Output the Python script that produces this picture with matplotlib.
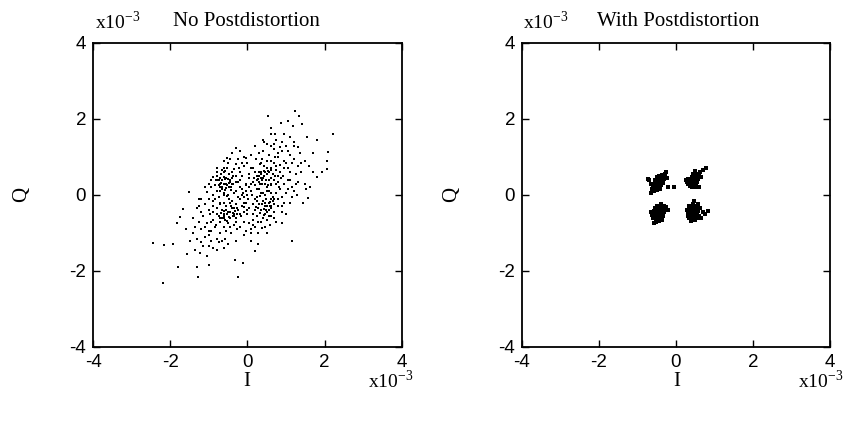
import matplotlib
matplotlib.use("Agg")
import matplotlib.pyplot as plt

plt.rcParams['font.family'] = ['Liberation Serif', 'DejaVu Serif']
plt.rcParams['mathtext.fontset'] = 'stix'
plt.rcParams['axes.unicode_minus'] = False

# values in units of 1e-3
# left panel: received constellation without postdistortion
cluster_a = [(-0.6,0.3),(-0.5,0.42),(-0.72,0.2),(-0.45,0.35),(-0.8,0.1),(-0.3,0.5),(-0.65,0.38),(-0.55,0.18),(-0.9,0.0),(-0.2,0.6),
             (-0.38,0.28),(-0.7,0.45),(-0.85,0.25),(-0.48,0.55),(-0.62,0.05),(-1.0,-0.12),(-0.1,0.75),(-0.35,0.68),(-0.75,-0.05),(-0.58,0.62),
             (-0.95,0.2),(-0.25,0.35),(-0.42,0.12),(-0.68,0.55),(-1.1,-0.25),(0.0,0.85),(-0.15,0.5),(-0.82,0.4),(-0.52,-0.02),(-0.3,0.82),
             (-1.2,-0.1),(-0.05,0.98),(-0.6,0.72),(-0.88,-0.15),(-0.4,0.45),(-0.72,0.3),(-0.55,0.3),(-0.65,0.15),(-0.47,0.22),(-0.78,0.5),
             (-1.05,0.08),(-0.2,0.2),(-0.35,0.05),(0.1,1.05),(-0.5,0.85),(-1.3,-0.35),(-0.9,0.48),(-0.25,0.95),(-0.62,0.6),(-0.7,-0.2)]
cluster_b = [(0.4,0.45),(0.5,0.55),(0.3,0.35),(0.6,0.7),(0.2,0.25),(0.45,0.3),(0.35,0.6),(0.7,0.85),(0.1,0.1),(0.55,0.4),
             (0.25,0.5),(0.8,1.0),(0.0,0.0),(0.65,0.55),(0.15,0.35),(0.9,1.15),(0.42,0.75),(0.3,0.15),(0.75,0.65),(-0.05,0.25),
             (0.5,0.9),(1.0,1.3),(0.6,0.25),(0.2,0.6),(0.85,0.8),(0.35,0.05),(0.7,1.2),(0.55,1.05),(1.1,1.05),(0.95,0.9),
             (0.15,0.7),(0.45,0.6),(0.62,0.45),(0.28,0.42),(0.8,0.5),(1.2,1.4),(0.05,0.45),(0.38,0.95),(0.9,1.4),(0.68,1.35),
             (0.5,0.2),(0.25,-0.05),(1.05,0.7),(0.72,1.0),(0.85,1.25),(0.4,1.15),(1.15,0.85),(0.6,1.3),(0.32,0.82),(0.78,0.35)]
cluster_c = [(-0.5,-0.45),(-0.4,-0.35),(-0.6,-0.55),(-0.3,-0.25),(-0.7,-0.7),(-0.45,-0.6),(-0.55,-0.3),(-0.2,-0.1),(-0.85,-0.85),(-0.35,-0.5),
             (-0.65,-0.4),(-0.1,-0.05),(-1.0,-0.95),(-0.25,-0.4),(-0.75,-0.55),(-0.5,-0.75),(-0.4,-0.15),(-0.9,-0.65),(-0.15,-0.3),(-1.1,-1.1),
             (-0.6,-0.85),(-0.3,-0.6),(-0.8,-0.35),(-0.05,-0.2),(-1.2,-0.9),(-0.55,-0.95),(-0.95,-1.2),(-0.7,-1.0),(-0.2,-0.5),(-1.3,-1.15),
             (-0.45,-0.2),(-0.62,-0.62),(-0.38,-0.48),(-0.88,-0.45),(-1.05,-0.75),(-0.15,0.0),(-0.72,-0.25),(-1.15,-1.35),(-0.8,-1.15),(-0.35,-0.8),
             (-0.52,-0.5),(-0.28,-0.35),(-0.68,-0.48),(-1.4,-1.0),(-0.98,-0.5),(-0.58,-1.15),(-0.42,-1.0),(-0.9,-1.4),(-0.1,-0.45),(-1.25,-0.7)]
cluster_d = [(0.45,-0.3),(0.55,-0.2),(0.35,-0.4),(0.65,-0.05),(0.25,-0.55),(0.5,-0.45),(0.4,-0.15),(0.75,0.05),(0.15,-0.65),(0.6,-0.35),
             (0.3,-0.25),(0.85,0.15),(0.05,-0.75),(0.7,-0.25),(0.2,-0.4),(0.95,0.3),(0.45,0.0),(0.35,-0.7),(0.8,-0.1),(0.0,-0.5),
             (0.55,0.1),(1.05,0.4),(0.6,-0.55),(0.25,-0.15),(0.9,-0.05),(0.1,-0.9),(0.75,0.3),(0.5,-0.65),(1.15,0.2),(1.0,0.05),
             (0.2,-0.85),(0.42,-0.52),(0.62,-0.12),(0.32,-0.02),(0.88,0.45),(-0.05,-0.95),(0.15,-0.25),(0.68,-0.45),(1.25,0.55),(0.52,0.25),
             (0.38,-0.88),(0.05,-0.35),(0.78,-0.3),(1.1,0.6),(0.28,-1.0),(0.58,-0.8),(0.95,-0.2),(0.48,-0.12),(0.72,0.5),(-0.1,-0.7)]
core = [(-0.3,0.1),(0.1,0.3),(-0.1,-0.2),(0.2,-0.1),(-0.5,0.0),(0.3,0.6),(-0.6,-0.2),(0.5,0.1),(-0.2,0.4),(0.0,-0.4),
        (-0.4,0.6),(0.7,0.4),(-0.8,-0.5),(0.4,-0.6),(-0.7,0.1),(0.6,0.9),(-0.3,-0.7),(0.25,0.15),(-0.15,0.15),(0.05,0.55),
        (-0.55,0.45),(0.45,-0.2),(-0.35,-0.35),(0.15,-0.5),(-0.65,0.65),(0.85,0.6),(-0.9,-0.3),(0.55,-0.55),(-0.45,-0.85),(0.35,0.85),
        (-0.05,0.3),(0.12,0.0),(-0.25,-0.05),(0.32,0.28),(-0.42,0.22),(0.22,-0.32),(-0.6,-0.42),(0.62,0.28),(-0.75,0.25),(0.75,0.75),
        (-0.18,-0.55),(0.08,0.72),(-0.52,0.7),(0.48,-0.4),(-0.85,-0.1),(0.92,0.5),(-0.3,0.35),(0.18,0.45),(-0.08,-0.32),(0.4,0.05),
        (-0.7,-0.6),(0.65,-0.15),(-0.22,0.72),(0.28,-0.7),(-0.95,-0.7),(1.0,0.85),(-0.48,-0.1),(0.52,0.62),(-0.12,0.05),(0.02,-0.12),
        (-0.38,0.5),(0.38,0.4),(-0.58,-0.65),(0.58,-0.3),(-0.78,0.38),(0.78,1.1),(-0.28,-0.9),(0.22,0.95),(-1.0,-0.4),(1.1,0.4),
        (-0.15,0.85),(0.15,-0.8),(-0.62,0.0),(0.62,0.05),(-0.35,-0.55),(0.35,0.55),(-0.82,-0.8),(0.82,0.2),(-0.05,0.1),(0.05,0.2),
        (-0.68,0.32),(-0.58,0.42),(-0.52,0.25),(-0.44,0.4),(-0.66,0.22),(-0.57,0.12),(-0.74,0.4),(-0.48,0.32),(-0.62,0.48),(-0.4,0.3),
        (0.35,0.45),(0.42,0.5),(0.48,0.4),(0.3,0.5),(0.55,0.6),(0.38,0.3),(0.26,0.38),(0.5,0.7),(0.62,0.65),(0.44,0.62),
        (-0.45,-0.45),(-0.55,-0.4),(-0.38,-0.55),(-0.6,-0.5),(-0.48,-0.58),(-0.32,-0.42),(-0.42,-0.3),(-0.66,-0.6),(-0.52,-0.68),(-0.28,-0.5),
        (0.5,-0.28),(0.42,-0.38),(0.58,-0.18),(0.38,-0.25),(0.55,-0.4),(0.32,-0.48),(0.68,-0.12),(0.46,-0.5),(0.62,-0.28),(0.28,-0.35),
        (-0.95,-0.95),(-1.15,-0.55),(-1.35,-0.85),(-1.1,-0.85),(-0.75,-1.25),(-1.0,-1.05),(-1.2,-1.25),(-0.65,-1.2),(-0.5,-1.3),(-0.2,-0.85),
        (0.95,0.7),(1.2,0.95),(1.3,1.25),(1.05,1.15),(0.75,1.45),(0.5,1.35),(0.3,1.1),(1.4,0.85),(1.25,0.3),(1.05,0.15),
        (-1.25,-0.3),(-1.0,0.3),(-0.8,0.6),(-0.45,0.95),(-0.1,1.0),(0.1,-1.0),(0.45,-0.85),(0.7,-0.6),(0.9,-0.3),(1.15,-0.05)]
halo = [(1.23,2.21),(0.54,2.08),(1.33,2.08),(2.22,1.61),(0.87,1.89),(1.05,1.95),(1.18,1.82),(1.41,1.87),(0.61,1.76),(0.71,1.61),
        (1.10,1.53),(1.54,1.53),(1.80,1.45),(0.43,1.40),(-0.30,1.24),(-0.53,0.97),(2.08,1.13),(2.06,0.90),(2.05,0.68),(1.93,0.61),
        (1.80,0.47),(1.62,0.21),(1.51,0.16),(1.28,0.0),(1.44,-0.21),(1.57,-0.08),(1.15,-1.21),(-1.51,0.08),(-1.25,-0.11),(-1.67,-0.37),
        (-1.75,-0.58),(-1.83,-0.74),(-2.45,-1.26),(-2.16,-1.32),(-1.93,-1.29),(-1.57,-1.55),(-1.80,-1.89),(-2.19,-2.32),(-1.31,-1.89),(-1.00,-1.84),
        (-1.28,-2.16),(-0.25,-2.16),(-0.12,-1.79),(-0.32,-1.71),(0.19,-1.47),(0.27,-1.29),(-1.05,-1.61),(-1.23,-1.53),
        (-1.4,-0.6),(-1.6,-0.9),(-1.2,-0.45),(-1.5,-1.2),(-1.35,-1.45),(-1.0,-1.35),(-0.8,-1.45),(-0.6,-1.4),(-0.3,-1.2),(-0.1,-1.05),
        (0.1,-1.2),(-1.1,0.2),(-0.95,0.4),(-0.8,0.7),(-0.6,0.9),(-0.4,1.1),(-0.2,1.15),(0.2,1.3),(0.4,1.45),(0.6,1.6),
        (0.95,1.6),(1.2,1.3),(1.35,1.1),(1.5,0.9),(1.6,0.75),(1.7,0.6),(1.4,0.6),(1.3,0.35),(1.2,0.1),(1.1,-0.2),
        (0.9,-0.45),(0.75,-0.7),(0.9,-0.75),(1.0,-0.5),(0.5,-1.0),(1.5,0.3),(1.7,1.1),(1.3,0.75)]

# right panel: with postdistortion
post_ul = [(-0.45,0.35),(-0.4,0.4),(-0.5,0.3),(-0.35,0.45),(-0.55,0.25),(-0.42,0.3),(-0.48,0.4),(-0.3,0.5),(-0.6,0.2),(-0.38,0.35),
           (-0.52,0.35),(-0.45,0.45),(-0.4,0.25),(-0.33,0.4),(-0.58,0.3),(-0.28,0.55),(-0.62,0.15),(-0.5,0.22),(-0.36,0.52),(-0.46,0.28),
           (-0.55,0.38),(-0.3,0.42),(-0.65,0.28),(-0.25,0.6),(-0.43,0.5),(-0.56,0.18),(-0.34,0.32),(-0.5,0.46),(-0.7,0.38),(-0.22,0.45),
           (-0.66,0.05),(-0.58,0.1),(-0.5,0.13),(-0.42,0.16),(-0.2,0.2),(-0.72,0.42),(-0.05,0.2)]
post_ur = [(0.45,0.4),(0.5,0.45),(0.4,0.35),(0.55,0.5),(0.35,0.3),(0.48,0.32),(0.42,0.48),(0.6,0.55),(0.3,0.28),(0.52,0.4),
           (0.38,0.42),(0.58,0.42),(0.45,0.25),(0.5,0.55),(0.33,0.36),(0.62,0.6),(0.28,0.35),(0.4,0.28),(0.55,0.35),(0.47,0.5),
           (0.36,0.24),(0.44,0.55),(0.53,0.28),(0.65,0.48),(0.3,0.42),(0.25,0.4),(0.7,0.65),(0.78,0.72),(0.52,0.2),(0.6,0.2),
           (0.42,0.22),(0.5,0.62)]
post_ll = [(-0.42,-0.47),(-0.38,-0.4),(-0.47,-0.52),(-0.33,-0.35),(-0.52,-0.58),(-0.4,-0.55),(-0.45,-0.4),(-0.3,-0.3),(-0.55,-0.5),(-0.36,-0.48),
           (-0.5,-0.45),(-0.28,-0.38),(-0.6,-0.6),(-0.42,-0.35),(-0.48,-0.62),(-0.35,-0.28),(-0.58,-0.42),(-0.25,-0.32),(-0.62,-0.52),(-0.44,-0.68),
           (-0.52,-0.7),(-0.3,-0.45),(-0.38,-0.6),(-0.2,-0.4),(-0.65,-0.45),(-0.55,-0.35),(-0.48,-0.3),(-0.4,-0.25),(-0.57,-0.75),(-0.33,-0.55),
           (-0.46,-0.58),(-0.35,-0.65)]
post_lr = [(0.42,-0.47),(0.48,-0.42),(0.38,-0.52),(0.52,-0.38),(0.35,-0.45),(0.45,-0.55),(0.4,-0.38),(0.55,-0.48),(0.32,-0.55),(0.5,-0.52),
           (0.44,-0.32),(0.58,-0.42),(0.36,-0.38),(0.47,-0.6),(0.3,-0.48),(0.6,-0.55),(0.4,-0.6),(0.52,-0.3),(0.33,-0.62),(0.56,-0.62),
           (0.62,-0.35),(0.28,-0.4),(0.45,-0.25),(0.48,-0.15),(0.7,-0.45),(0.75,-0.5),(0.82,-0.42),(0.38,-0.68),(0.5,-0.66),(0.65,-0.6),
           (0.35,-0.3),(0.58,-0.25)]

ticks = [-4, -2, 0, 2, 4]
exp_label = 'x10$^{\\mathdefault{-3}}$'

fig = plt.figure(figsize=(8.46, 4.21), dpi=100)
ax1 = fig.add_axes([0.110, 0.176, 0.365, 0.722])
ax2 = fig.add_axes([0.617, 0.176, 0.364, 0.722])

for pts in [cluster_a, cluster_b, cluster_c, cluster_d, core, halo]:
    xs, ys = zip(*pts)
    ax1.scatter(xs, ys, s=3.5, marker='s', color='black', linewidths=0)

for pts in [post_ul, post_ur, post_ll, post_lr]:
    xs, ys = zip(*pts)
    ax2.scatter(xs, ys, s=10, marker='s', color='black', linewidths=0)

for ax in [ax1, ax2]:
    ax.set_xlim(-4, 4)
    ax.set_ylim(-4, 4)
    ax.set_xticks(ticks)
    ax.set_yticks(ticks)
    ax.tick_params(direction='in', length=5, width=1, top=True, right=True,
                   labelsize=13.5, pad=5)
    for lbl in ax.get_xticklabels() + ax.get_yticklabels():
        lbl.set_family('Liberation Sans')
    for sp in ax.spines.values():
        sp.set_linewidth(1.3)

# titles, exponents and axis names
fig.text(0.112, 0.948, exp_label, fontsize=14, va='center')
fig.text(0.2045, 0.948, 'No Postdistortion', fontsize=15, va='center')
fig.text(0.618, 0.948, exp_label, fontsize=14, va='center')
fig.text(0.706, 0.948, 'With Postdistortion', fontsize=15, va='center')

fig.text(0.292, 0.095, 'I', fontsize=15, ha='center', va='center')
fig.text(0.435, 0.095, exp_label, fontsize=14, va='center')
fig.text(0.800, 0.095, 'I', fontsize=15, ha='center', va='center')
fig.text(0.943, 0.095, exp_label, fontsize=14, va='center')

fig.text(0.026, 0.537, 'Q', fontsize=15, rotation=90, ha='center', va='center')
fig.text(0.534, 0.537, 'Q', fontsize=15, rotation=90, ha='center', va='center')

fig.savefig('out.png', dpi=100)
